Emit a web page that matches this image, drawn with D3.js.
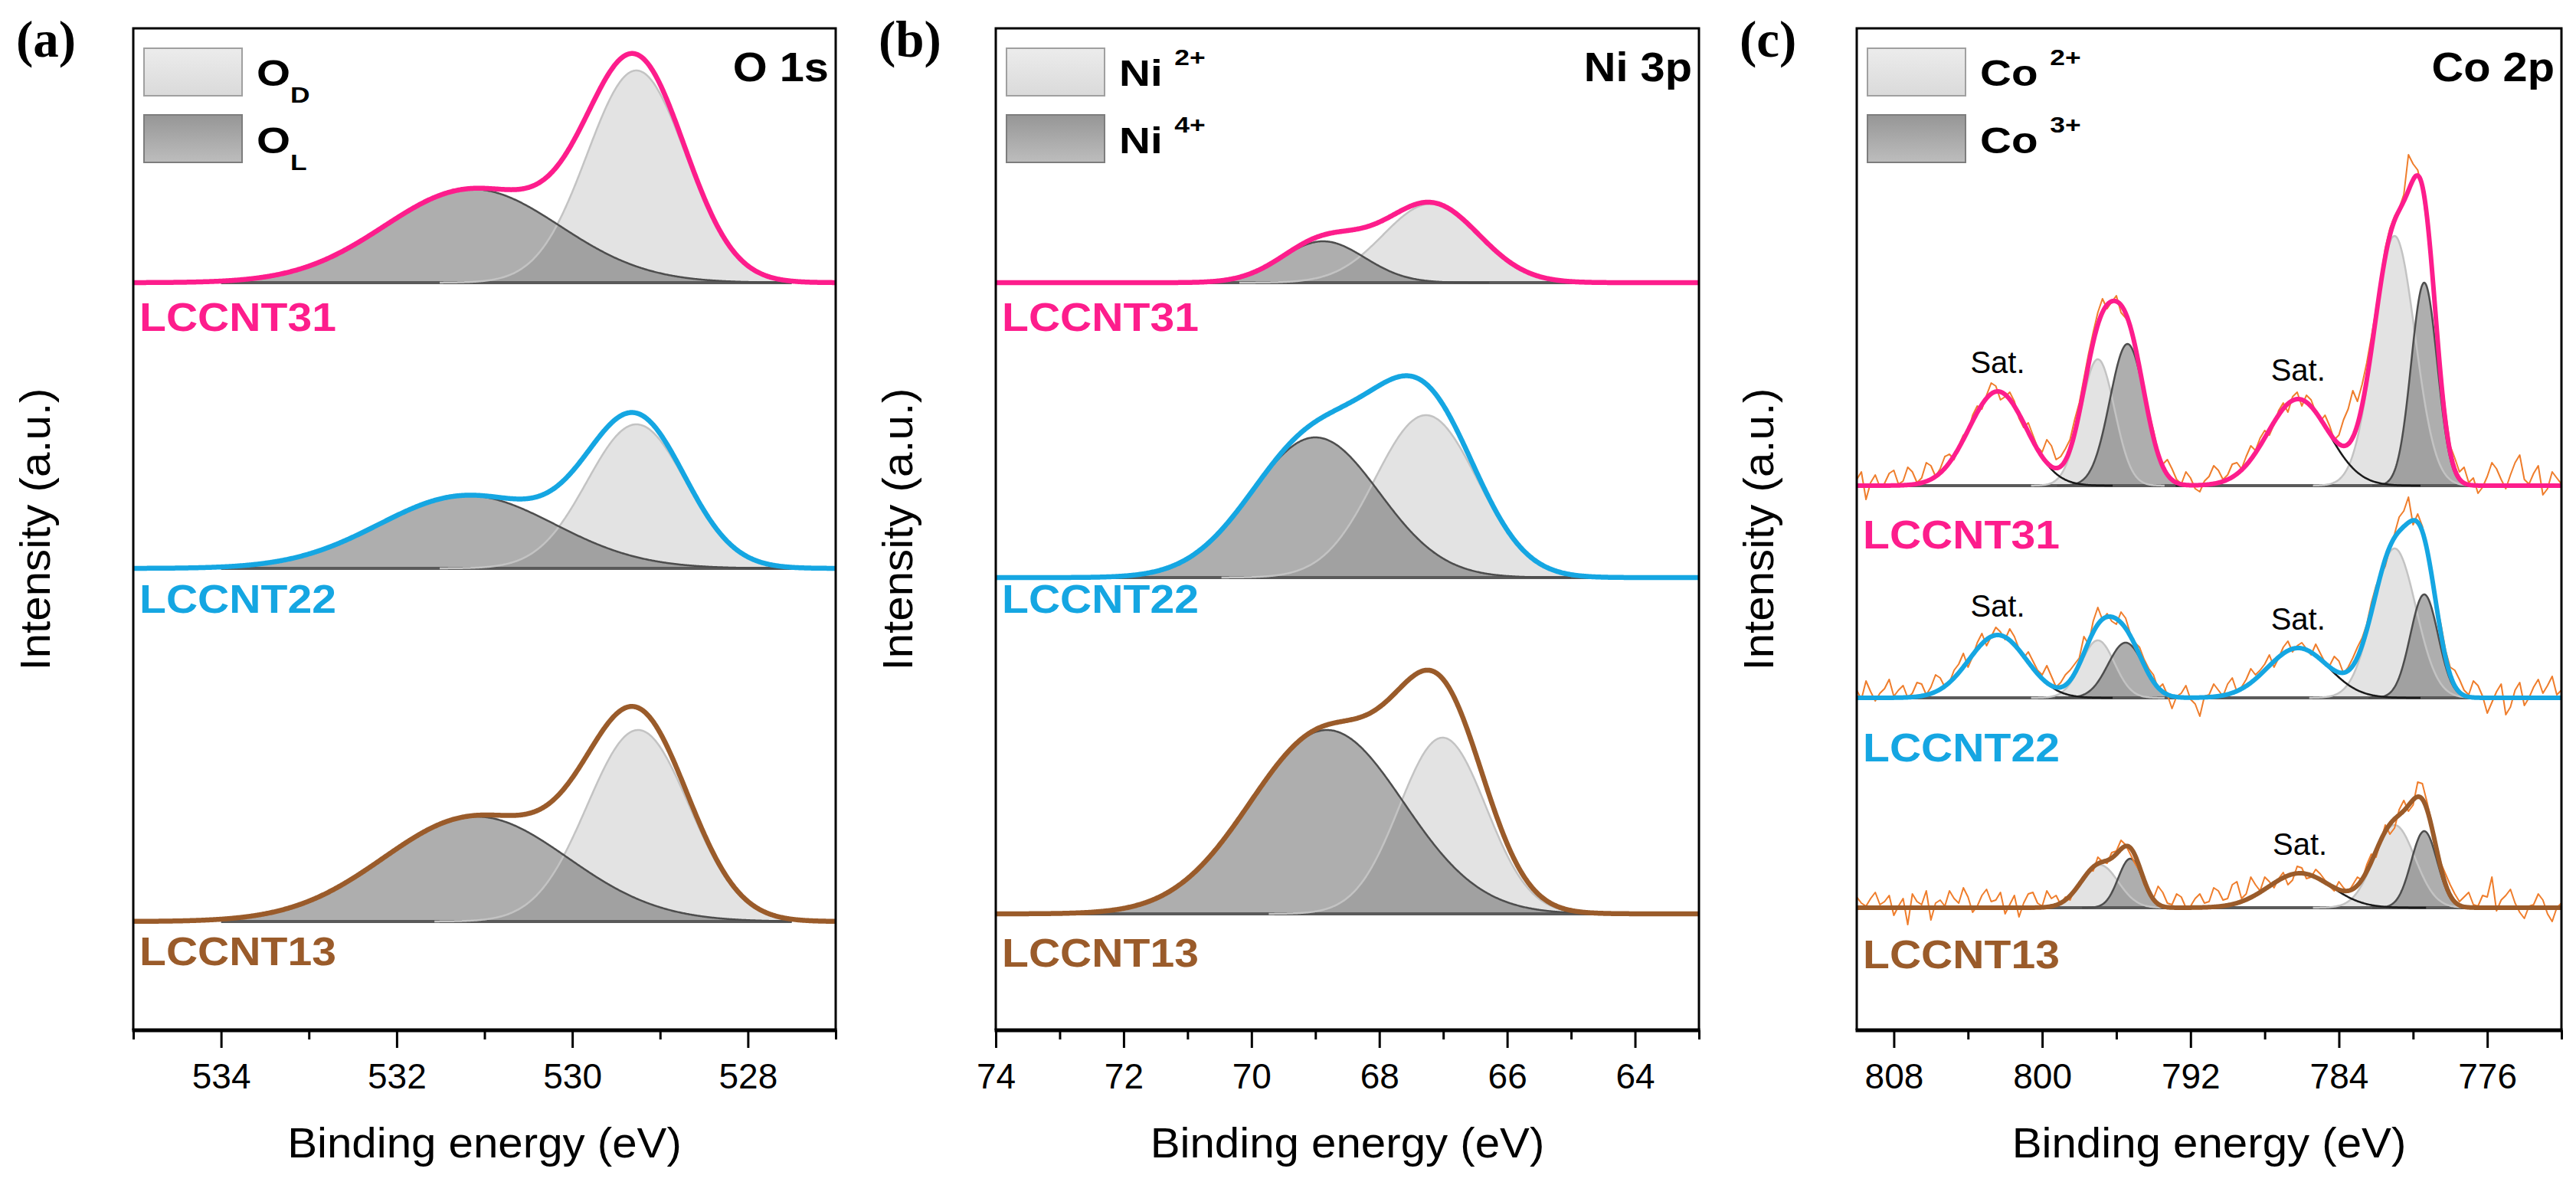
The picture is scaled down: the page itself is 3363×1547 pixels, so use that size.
<!DOCTYPE html>
<html>
<head>
<meta charset="utf-8">
<script src="https://cdn.jsdelivr.net/npm/d3@7"></script>
<style>
  body { margin: 0; background: #fff; }
  svg { display: block; }
</style>
</head>
<body>
<div id="chart"></div>
<script>
const width = 3363;
const height = 1547;

const samples = ["LCCNT31", "LCCNT22", "LCCNT13"];
const sampleColors = ["#fd1d8c", "#15a6e2", "#9a5b2a"];

// fitted peaks, one row per sample: [centre (eV), height, sigma (eV)]
const o1sOD = [[529.27, 277, 0.56], [529.27, 188, 0.56], [529.25, 250, 0.58]];
const o1sOL = [[531.14, 122, 1.0], [531.2, 95, 1.0], [531.1, 137, 1.05]];
const o1sOffsets = [976, 603, 142];

const ni3pNi2 = [[67.19, 103, 0.75], [67.27, 212, 0.8], [67.01, 230, 0.68]];
const ni3pNi4 = [[68.88, 54, 0.65], [69.0, 183, 1.0], [68.82, 240, 1.2]];
const ni3pOffsets = [976, 591, 152];

const co2pCo2a = [[781.0, 326, 1.1], [781.0, 195, 1.15], [781.0, 108, 1.1]];
const co2pCo3a = [[779.4, 265, 0.7], [779.4, 135, 0.75], [779.4, 100, 0.7]];
const co2pCo2b = [[797.0, 165, 0.9], [797.0, 75, 0.9], [796.9, 56, 1.0]];
const co2pCo3b = [[795.4, 185, 0.95], [795.5, 72, 0.95], [795.25, 64, 0.65]];
const co2pSat1 = [[802.4, 123, 1.55], [802.4, 82, 1.55], null];
const co2pSat2 = [[786.2, 113, 1.65], [786.2, 65, 1.65], [786.1, 45, 1.7]];
const co2pOffsets = [711, 434, 160];

// raw Co 2p counts, 810 -> 772 eV every 0.25 eV (one group per eV)
const co2pRawEnergy = d3.range(810, 771.9, -0.25);
const co2pRaw = [
  [8, 18, -18, 4,   14, -2, 3, 16,   20, 2, 6, 24,   18, 4, 10, 30,
   26, 12, 22, 38,   41, 34, 52, 66,   70, 92, 104, 100,   118, 134, 130, 112,
   116, 122, 110, 88,   76, 82, 66, 50,   44, 60, 52, 34,   38, 48, 60, 86,
   108, 140, 172, 200,   226, 244, 231, 240,   248, 226, 219, 208,   190, 150, 118, 96,
   72, 44, 28, 34,   22, 8, 2, 18,   10, -4, -8, 6,   12, 26, 20, 8,
   14, 28, 30, 22,   38, 52, 46, 62,   72, 66, 80, 98,   108, 96, 116, 122,
   104, 118, 112, 96,   84, 92, 78, 60,   66, 86, 100, 124,   110, 132, 160, 194,
   230, 270, 310, 336,   352, 362, 380, 432,   420, 412, 386, 340,   280, 210, 150, 96,
   52, 36, 18, 24,   4, 10, -10, -2,   12, 30, 22, 8,   -4, 14, 30, 40,
   8, 2, 16, 26,   -12, -4, 18, 10,   2],
  [10, -2, 22, 8,   -4, 6, 12, 24,   2, 10, 16, 0,   6, 20, 18, 4,
   14, 30, 26, 14,   20, 36, 44, 58,   40, 54, 72, 84,   68, 80, 92, 86,
   76, 90, 80, 64,   52, 60, 48, 36,   30, 42, 28, 14,   20, 30, 36, 44,
   52, 80, 70, 100,   118, 102, 110, 100,   96, 112, 104, 84,   72, 66, 50, 38,
   30, 12, 18, 4,   -14, 2, 6, 16,   -2, -8, -24, 2,   4, 18, 10, 2,
   18, 26, 8, 14,   24, 38, 30, 36,   44, 56, 40, 52,   66, 74, 60, 68,
   72, 64, 56, 70,   58, 46, 42, 54,   48, 32, 40, 52,   66, 78, 96, 124,
   146, 160, 172, 196,   214, 236, 244, 262,   226, 240, 224, 190,   152, 124, 96, 62,
   40, 36, 24, 10,   4, 22, 16, 2,   -20, -6, 8, 18,   -22, -12, 10, 20,
   -10, 0, 14, 24,   6, 16, 28, 4,   10],
  [14, 6, 2, 12,   20, 4, 8, 16,   -10, 2, 12, -22,   18, 8, 4, 22,
   -16, 6, 10, 2,   22, 12, 6, 26,   14, -6, 2, 16,   24, 8, 10, 20,
   -8, 4, 16, -12,   6, 18, 20, 6,   2, 22, 12, 16,   4, 14, 10, 24,
   30, 36, 50, 48,   66, 60, 58, 72,   74, 88, 82, 70,   58, 48, 30, 24,
   12, 28, 20, 6,   4, 18, 14, 0,   2, 12, 18, 6,   8, 26, 22, 10,
   12, 30, 34, 12,   18, 40, 30, 22,   40, 34, 26, 38,   46, 30, 36, 54,
   52, 38, 40, 50,   44, 36, 28, 22,   34, 26, 20, 30,   40, 36, 56, 70,
   66, 86, 108, 96,   104, 128, 140, 126,   134, 164, 162, 138,   112, 84, 58, 44,
   30, 18, 8, 14,   20, 4, 2, 16,   14, 40, -4, 10,   16, 24, 6, -6,
   -14, 2, 4, 18,   10, -8, -18, 0,   6]
];

const panels = [
  {
    letter: "(a)", title: "O 1s", domain: [535, 527],
    major: [534, 532, 530, 528], minor: [535, 533, 531, 529, 527],
    legend: [["O", "D", "sub"], ["O", "L", "sub"]],
    comps: [{ kind: "light", params: o1sOD }, { kind: "dark", params: o1sOL }],
    offsets: o1sOffsets, base: [534, 527.5], labelDrop: [63, 58, 57], lw: 6.5
  },
  {
    letter: "(b)", title: "Ni 3p", domain: [74, 63],
    major: [74, 72, 70, 68, 66, 64], minor: [73, 71, 69, 67, 65, 63],
    legend: [["Ni", "2+", "sup"], ["Ni", "4+", "sup"]],
    comps: [{ kind: "light", params: ni3pNi2 }, { kind: "dark", params: ni3pNi4 }],
    offsets: ni3pOffsets, base: [72.8, 64.6], labelDrop: [63, 46, 69], lw: 6.5
  },
  {
    letter: "(c)", title: "Co 2p", domain: [810, 772],
    major: [808, 800, 792, 784, 776], minor: [804, 796, 788, 780, 772],
    legend: [["Co", "2+", "sup"], ["Co", "3+", "sup"]],
    comps: [
      { kind: "light", params: co2pCo2a }, { kind: "light", params: co2pCo2b },
      { kind: "dark", params: co2pCo3a }, { kind: "dark", params: co2pCo3b },
      { kind: "sat", params: co2pSat1 }, { kind: "sat", params: co2pSat2 }
    ],
    offsets: co2pOffsets, base: [808, 776.5], raw: co2pRaw, rawE: co2pRawEnergy,
    labelDrop: [82, 83, 79], lw: 6
  }
];

const sans = "Arial, 'Liberation Sans', sans-serif";
const serif = "'Times New Roman', 'Liberation Serif', serif";
const plotTop = 37, plotBottom = 1345;
const frames = [[174, 1091], [1300, 2218], [2424, 3344]];

const svg = d3.select("#chart").append("svg").attr("width", width).attr("height", height);
const defs = svg.append("defs");

function grad(id, c0, c1) {
  const lg = defs.append("linearGradient").attr("id", id)
    .attr("x1", 0).attr("y1", 0).attr("x2", 0).attr("y2", 1);
  lg.append("stop").attr("offset", "0%").attr("stop-color", c0);
  lg.append("stop").attr("offset", "100%").attr("stop-color", c1);
}
grad("legLight", "#ececec", "#dadada");
grad("legDark", "#969696", "#bdbdbd");

// text stretched a little horizontally, as in the original figure
function label(parent, x, y, str, size, weight, sx, anchor, fill) {
  return parent.append("g").attr("transform", `translate(${x},${y}) scale(${sx},1)`)
    .append("text")
    .attr("text-anchor", anchor || "start")
    .attr("font-family", sans)
    .attr("font-size", size)
    .attr("font-weight", weight)
    .attr("fill", fill || "#000")
    .text(str);
}

const gauss = (e, p) => {
  const d = (e - p[0]) / p[2];
  return p[1] * Math.exp(-0.5 * d * d);
};

panels.forEach((p, pi) => {
  const [left, right] = frames[pi];
  const x = d3.scaleLinear().domain(p.domain).range([left, right]);
  const y = d3.scaleLinear().domain([0, plotBottom - plotTop]).range([plotBottom, plotTop]);
  const g = svg.append("g");

  defs.append("clipPath").attr("id", "clip" + pi).append("rect")
    .attr("x", left).attr("y", plotTop)
    .attr("width", right - left).attr("height", plotBottom - plotTop);
  const plot = g.append("g").attr("clip-path", `url(#clip${pi})`);

  const lo = Math.min(...p.domain), hi = Math.max(...p.domain);
  const step = (hi - lo) / 900;
  const bLo = Math.min(...p.base), bHi = Math.max(...p.base);

  samples.forEach((s, si) => {
    const off = p.offsets[si];
    const comps = p.comps.map(c => ({ kind: c.kind, par: c.params[si] })).filter(c => c.par);
    const env = e => comps.reduce((acc, c) => acc + gauss(e, c.par), 0);
    const sg = plot.append("g");

    const compE = c => {
      const a = Math.max(bLo, c.par[0] - 4 * c.par[2]);
      const b = Math.min(bHi, c.par[0] + 4 * c.par[2]);
      return d3.range(a, b, step).concat([b]);
    };

    // filled components
    ["light", "dark"].forEach(kind => {
      comps.filter(c => c.kind === kind).forEach(c => {
        sg.append("path")
          .datum(compE(c))
          .attr("d", d3.area().x(e => x(e)).y0(y(off)).y1(e => y(off + gauss(e, c.par))))
          .attr("fill", kind === "light" ? "#e3e3e3" : "#6c6c6c")
          .attr("fill-opacity", kind === "light" ? 1 : 0.55);
      });
    });

    // fit baseline
    sg.append("line")
      .attr("x1", x(bHi)).attr("x2", x(bLo))
      .attr("y1", y(off)).attr("y2", y(off))
      .attr("stroke", "#5a5a5a").attr("stroke-width", 4);

    // component outlines
    comps.forEach(c => {
      sg.append("path")
        .datum(compE(c))
        .attr("d", d3.line().x(e => x(e)).y(e => y(off + gauss(e, c.par))))
        .attr("fill", "none")
        .attr("stroke", c.kind === "light" ? "#c3c3c3" : c.kind === "dark" ? "#4d4d4d" : "#1a1a1a")
        .attr("stroke-width", 2.5);
    });

    // raw data
    if (p.raw) {
      sg.append("path")
        .datum(p.raw[si])
        .attr("d", d3.line().x((v, i) => x(p.rawE[i])).y(v => y(off + v)))
        .attr("fill", "none")
        .attr("stroke", "#ef7d2b")
        .attr("stroke-width", 2)
        .attr("stroke-linejoin", "round");
    }

    // envelope
    const envE = d3.range(lo, hi, step).concat([hi]);
    sg.append("path")
      .datum(envE)
      .attr("d", d3.line().x(e => x(e)).y(e => y(off + env(e))))
      .attr("fill", "none")
      .attr("stroke", sampleColors[si])
      .attr("stroke-width", p.lw)
      .attr("stroke-linejoin", "round");

    comps.filter(c => c.kind === "sat").forEach(c => {
      label(g, x(c.par[0]), y(off + env(c.par[0])) - 24, "Sat.", 40, "normal", 1, "middle");
    });

    label(g, left + 8, y(off) + p.labelDrop[si], s, 51, "bold", 1.12, "start", sampleColors[si]);
  });

  // axes
  const ax = g.append("g").attr("transform", `translate(0,${plotBottom})`)
    .call(d3.axisBottom(x).tickValues(p.major).tickSize(23).tickPadding(20).tickFormat(d3.format("d")));
  ax.select(".domain").remove();
  ax.attr("font-family", sans).attr("font-size", 46);
  ax.selectAll(".tick line").attr("stroke", "#000").attr("stroke-width", 3);
  ax.selectAll(".tick text").attr("fill", "#000");

  const mx = g.append("g").attr("transform", `translate(0,${plotBottom})`)
    .call(d3.axisBottom(x).tickValues(p.minor).tickSize(12).tickFormat(""));
  mx.select(".domain").remove();
  mx.selectAll(".tick line").attr("stroke", "#000").attr("stroke-width", 3);

  g.append("path")
    .attr("d", `M${left},${plotBottom}V${plotTop}H${right}V${plotBottom}`)
    .attr("fill", "none").attr("stroke", "#000").attr("stroke-width", 3);
  g.append("line")
    .attr("x1", left - 1.5).attr("x2", right + 1.5)
    .attr("y1", plotBottom).attr("y2", plotBottom)
    .attr("stroke", "#000").attr("stroke-width", 5);

  // titles
  label(g, (left + right) / 2, 1511, "Binding energy (eV)", 56, "normal", 1.04, "middle");
  g.append("g")
    .attr("transform", `translate(${left - 109},${(plotTop + plotBottom) / 2}) rotate(-90) scale(1.04,1)`)
    .append("text")
    .attr("text-anchor", "middle")
    .attr("font-family", sans)
    .attr("font-size", 56)
    .text("Intensity (a.u.)");

  g.append("text")
    .attr("x", left - 153).attr("y", 74)
    .attr("font-family", serif).attr("font-weight", "bold").attr("font-size", 67)
    .text(p.letter);

  label(g, right - 9, 106, p.title, 54, "bold", 1.07, "end");

  // legend
  p.legend.forEach((L, li) => {
    g.append("rect")
      .attr("x", left + 14).attr("y", [63, 150][li])
      .attr("width", 128).attr("height", 62)
      .attr("fill", li === 0 ? "url(#legLight)" : "url(#legDark)")
      .attr("stroke", li === 0 ? "#a0a0a0" : "#7d7d7d")
      .attr("stroke-width", 2);
    const t = g.append("g")
      .attr("transform", `translate(${left + 161},${[112, 200][li]}) scale(1.18,1)`)
      .append("text")
      .attr("font-family", sans).attr("font-weight", "bold").attr("font-size", 48);
    if (L[2] === "sub") {
      t.append("tspan").text(L[0]);
      t.append("tspan").attr("dy", 22).attr("font-size", 30).text(L[1]);
    } else {
      t.append("tspan").text(L[0] + "\u00a0");
      t.append("tspan").attr("dy", -27).attr("font-size", 30).text(L[1]);
    }
  });
});
</script>
</body>
</html>
